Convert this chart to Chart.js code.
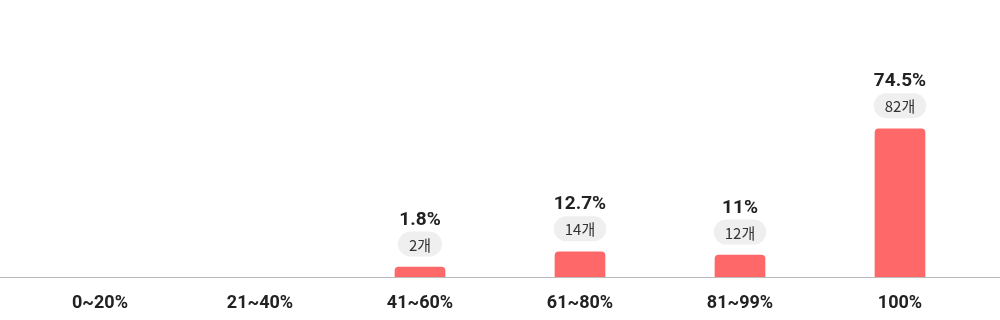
<!DOCTYPE html>
<html><head><meta charset="utf-8">
<script src="https://cdn.jsdelivr.net/npm/chart.js@4"></script>
<style>html,body{margin:0;padding:0;background:#fff}#wrap{width:1000px;height:320px}</style>
</head><body><div id="wrap"><canvas id="c"></canvas></div>
<script>
const categories = ['0~20%', '21~40%', '41~60%', '61~80%', '81~99%', '100%'];
const percents = [0, 0, 1.8, 12.7, 11, 74.5];
const counts = [0, 0, 2, 14, 12, 82];
const percentLabels = ['0%', '0%', '1.8%', '12.7%', '11%', '74.5%'];

const FONT = "Roboto, 'Noto Sans CJK KR', sans-serif";
const PILL_FONT = "'Noto Sans CJK KR', Roboto, sans-serif";

const axisLine = {
  id: 'axisLine',
  beforeDatasetsDraw(chart) {
    const ctx = chart.ctx, y = Math.round(chart.scales.x.top) + 0.5;
    ctx.save();
    ctx.strokeStyle = '#bbbbbb';
    ctx.lineWidth = 1;
    ctx.beginPath();
    ctx.moveTo(0, y);
    ctx.lineTo(chart.width, y);
    ctx.stroke();
    ctx.restore();
  }
};

const labelPlugin = {
  id: 'barLabels',
  afterDatasetsDraw(chart) {
    const ctx = chart.ctx;
    const meta = chart.getDatasetMeta(0);
    meta.data.forEach((bar, i) => {
      if (!counts[i]) return;
      const x = bar.x, top = bar.y;
      ctx.save();
      ctx.textAlign = 'center';
      ctx.textBaseline = 'middle';
      ctx.fillStyle = '#222';
      ctx.font = 'bold 19px ' + FONT;
      ctx.fillText(percentLabels[i], x, top - 47);
      const t = counts[i] + '개';
      ctx.font = '15px ' + PILL_FONT;
      const w = ctx.measureText(t).width + 22;
      const h = 25;
      ctx.fillStyle = '#efefef';
      ctx.beginPath();
      ctx.roundRect(x - w / 2, top - 23 - h / 2, w, h, h / 2);
      ctx.fill();
      ctx.fillStyle = '#333';
      ctx.fillText(t, x, top - 22);
      ctx.restore();
    });
  }
};

new Chart(document.getElementById('c'), {
  type: 'bar',
  data: {
    labels: categories,
    datasets: [{
      data: percents.map((v, i) => counts[i] ? v : null),
      backgroundColor: '#ff6868',
      borderRadius: { topLeft: 4, topRight: 4, bottomLeft: 0, bottomRight: 0 },
      borderSkipped: 'bottom',
      barThickness: 50,
      minBarLength: 10
    }]
  },
  options: {
    responsive: true,
    maintainAspectRatio: false,
    animation: false,
    layout: { padding: { left: 20, right: 20, top: 78, bottom: 0 } },
    plugins: { legend: { display: false }, tooltip: { enabled: false } },
    scales: {
      x: {
        grid: { display: false, drawTicks: false },
        border: { display: false },
        ticks: { color: '#222', font: { family: FONT, size: 18, weight: 'bold' }, padding: 16 },
        afterFit: s => { s.height = 43; }
      },
      y: {
        display: false,
        min: 0,
        max: 100
      }
    }
  },
  plugins: [axisLine, labelPlugin]
});
</script></body></html>
